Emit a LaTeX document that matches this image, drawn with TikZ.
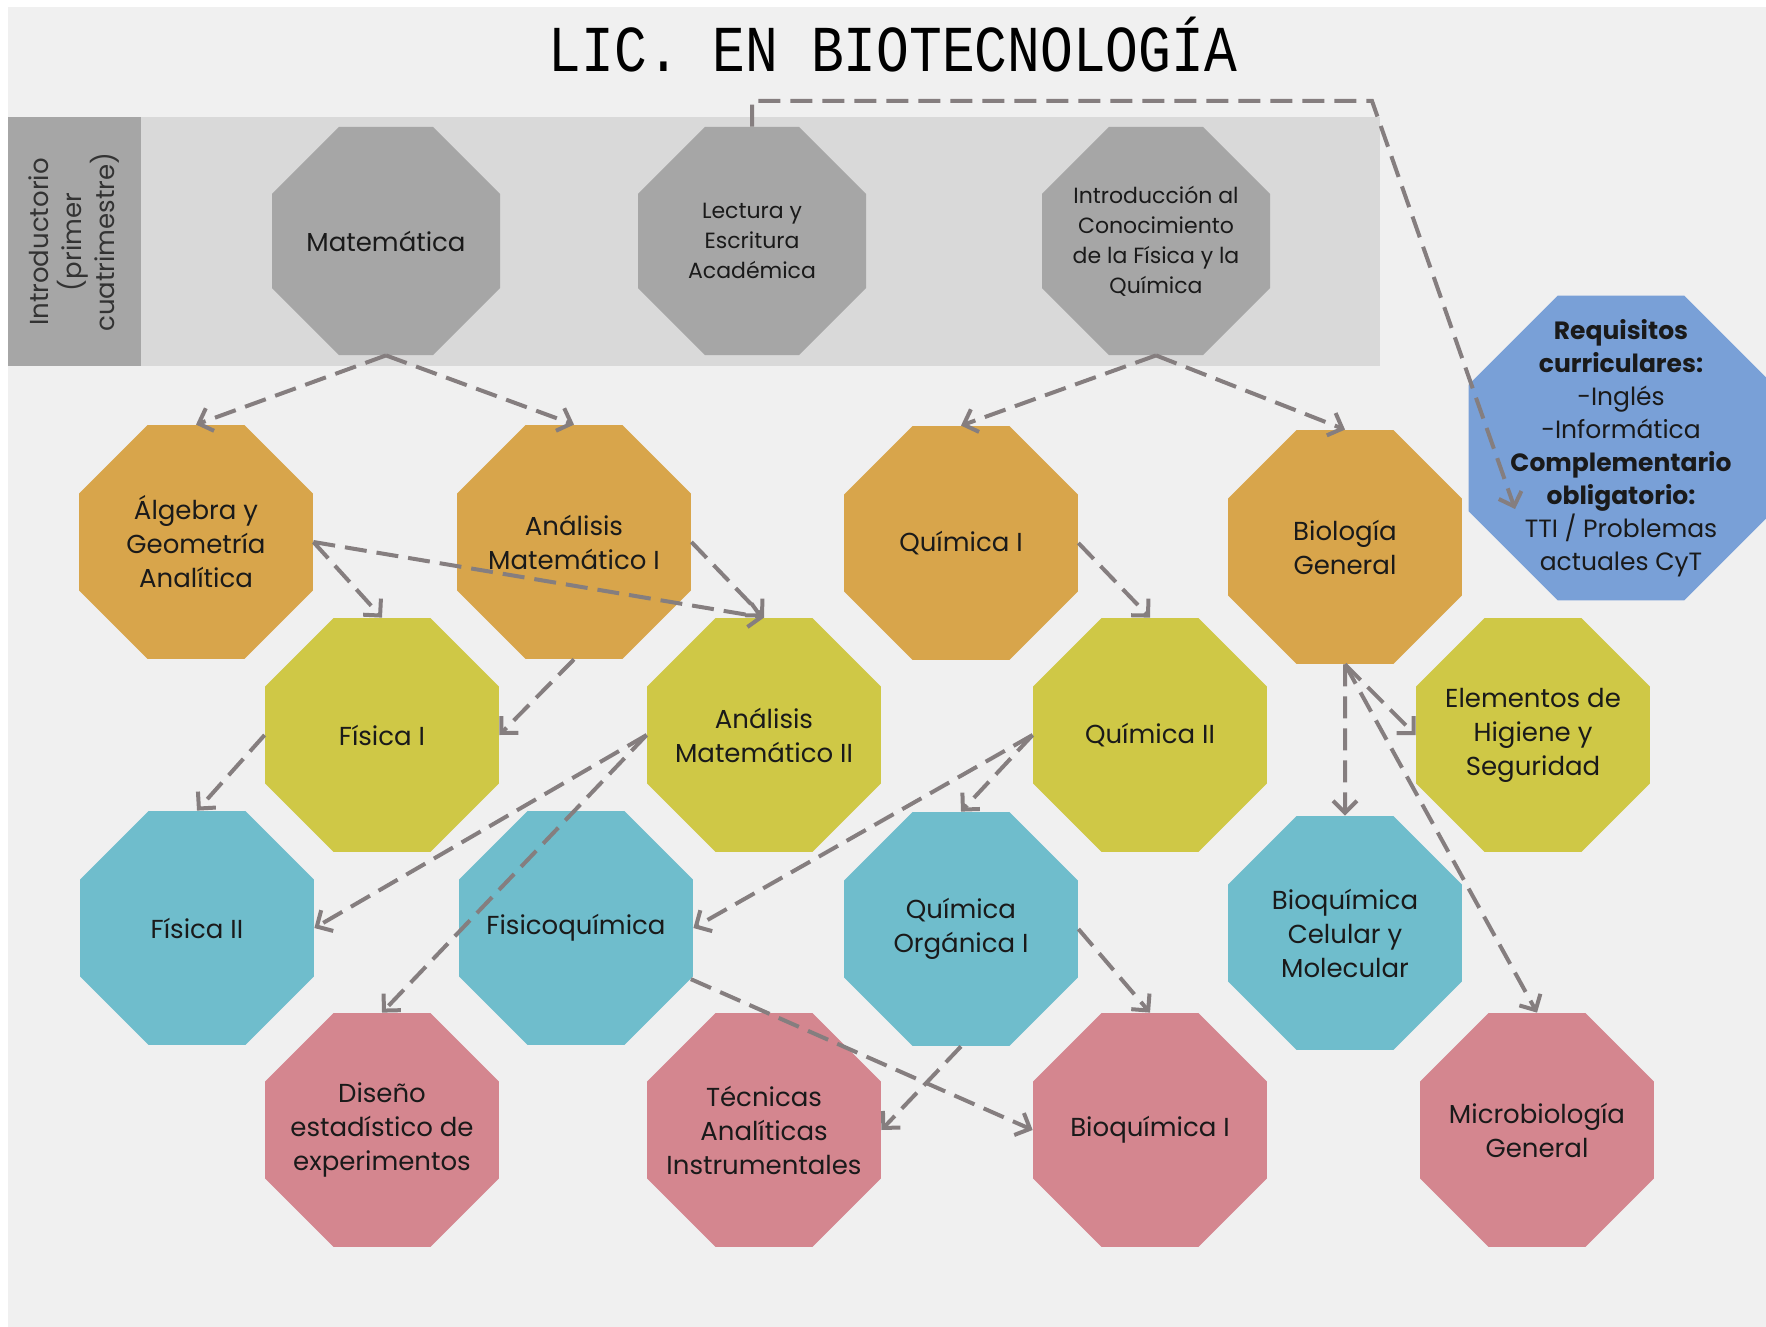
\documentclass[tikz,border=0pt]{standalone}
\usepackage{fontspec}
\setmainfont{Poppins}
\newfontfamily\titlefont{Liberation Mono}
\usetikzlibrary{shapes.geometric,arrows.meta}

\definecolor{fondo}{HTML}{F0F0F0}
\definecolor{banda}{HTML}{D9D9D9}
\definecolor{grisoct}{HTML}{A6A6A6}
\definecolor{naranja}{HTML}{D8A54B}
\definecolor{oliva}{HTML}{CFC846}
\definecolor{celeste}{HTML}{6FBDCC}
\definecolor{rosa}{HTML}{D4868F}
\definecolor{azul}{HTML}{79A0D7}
\definecolor{flecha}{HTML}{857E7F}
\definecolor{letra}{HTML}{1A1A1A}

\tikzset{
  materia/.style={regular polygon, regular polygon sides=8, minimum size=126.6pt,
    inner sep=-14pt, align=center, text=letra, font=\fontsize{13}{17}\selectfont},
  intro/.style={materia, fill=grisoct, minimum size=123.4pt, font=\fontsize{11}{15}\selectfont},
  primero/.style={materia, fill=naranja},
  segundo/.style={materia, fill=oliva},
  tercero/.style={materia, fill=celeste},
  cuarto/.style={materia, fill=rosa},
  corre/.style={draw=flecha, line width=2pt, dash pattern=on 11pt off 5pt,
    -{Straight Barb[length=6pt,width=12pt]}},
}

\begin{document}
\begin{tikzpicture}[x=0.5pt,y=-0.5pt]
  \def\Ya{241}; % introductorio
  \def\Yb{542};
  \def\Yc{735};
  \def\Yd{928};
  \def\Ye{1130};

  % fondo
  \useasboundingbox (0,0) rectangle (1766,1327);
  \fill[white] (0,0) rectangle (1766,1327);
  \fill[fondo] (8,7) rectangle (1766,1327);
  \fill[banda] (8,117) rectangle (1380,366);
  \fill[grisoct] (8,117) rectangle (141,366);

  \node[font=\titlefont\fontsize{27.3}{30}\selectfont] (titulo) at (893,45)
    {\scalebox{1}[1.2]{LIC. EN BIOTECNOLOGÍA}};
  \node[rotate=90, align=center, text=black!80, font=\fontsize{13}{16.5}\selectfont] (cuatri) at (74,242)
    {Introductorio\\(primer\\cuatrimestre)};

  % introductorio
  \node[intro, font=\fontsize{13}{17}\selectfont] (mat) at (386,\Ya) {Matemática};
  \node[intro] (lec) at (752,\Ya) {Lectura y\\Escritura\\Académica};
  \node[intro] (icfq) at (1156,\Ya) {Introducción al\\Conocimiento\\de la Física y la\\Química};

  % materias
  \node[primero] (alg) at (196,\Yb) {Álgebra y\\Geometría\\Analítica};
  \node[primero] (ami) at (574,\Yb) {Análisis\\Matemático I};
  \node[primero] (qi) at (961,543) {Química I};
  \node[primero] (bio) at (1345,547) {Biología\\General};

  \node[segundo] (fi) at (382,\Yc) {Física I};
  \node[segundo] (amii) at (764,\Yc) {Análisis\\Matemático II};
  \node[segundo] (qii) at (1150,\Yc) {Química II};
  \node[segundo] (hig) at (1533,\Yc) {Elementos de\\Higiene y\\Seguridad};

  \node[tercero] (fii) at (197,\Yd) {Física II};
  \node[tercero] (fq) at (576,\Yd) {Fisicoquímica};
  \node[tercero] (qo) at (961,929) {Química\\Orgánica I};
  \node[tercero] (bcm) at (1345,933) {Bioquímica\\Celular y\\Molecular};

  \node[cuarto] (dis) at (382,\Ye) {Diseño\\estadístico de\\experimentos};
  \node[cuarto] (tec) at (764,\Ye) {Técnicas\\Analíticas\\Instrumentales};
  \node[cuarto] (bqi) at (1150,\Ye) {Bioquímica I};
  \node[cuarto] (mic) at (1537,\Ye) {Microbiología\\General};

  % requisitos
  \node[materia, fill=azul, minimum size=165pt, inner sep=-40pt,
    font=\fontsize{12.5}{16.5}\selectfont] (req) at (1621,448)
    {\textbf{Requisitos}\\\textbf{curriculares:}\\-Inglés\\-Informática\\
     \textbf{Complementario}\\\textbf{obligatorio:}\\TTI / Problemas\\actuales CyT};

  % correlativas
  \draw[corre] (mat.south) -- (alg.north);
  \draw[corre] (mat.south) -- (ami.north);
  \draw[corre] (icfq.south) -- (qi.north);
  \draw[corre] (icfq.south) -- (bio.north);

  \draw[corre] (alg.east) -- (fi.north);
  \draw[corre] (alg.east) -- (amii.north);
  \draw[corre] (ami.east) -- (amii.north);
  \draw[corre] (ami.south) -- (fi.east);
  \draw[corre] (qi.east) -- (qii.north);

  \draw[corre] (fi.west) -- (fii.north);
  \draw[corre] (amii.west) -- (fii.east);
  \draw[corre] (amii.west) -- (dis.north);
  \draw[corre] (qii.west) -- (fq.east);
  \draw[corre] (qii.west) -- (qo.north);
  \draw[corre] (bio.south) -- (bcm.north);
  \draw[corre] (bio.south) -- (hig.west);
  \draw[corre] (bio.south) -- (mic.north);

  \draw[corre] (qo.east) -- (bqi.north);
  \draw[corre] (qo.south) -- (tec.east);
  \draw[corre] (fq.-24) -- (bqi.west);

  % lectura -> requisitos
  \coordinate (esquina) at (1372,101);
  \coordinate (punta) at (1515,509);
  \draw[corre] (lec.north) |- (esquina) -- (punta);
\end{tikzpicture}
\end{document}
